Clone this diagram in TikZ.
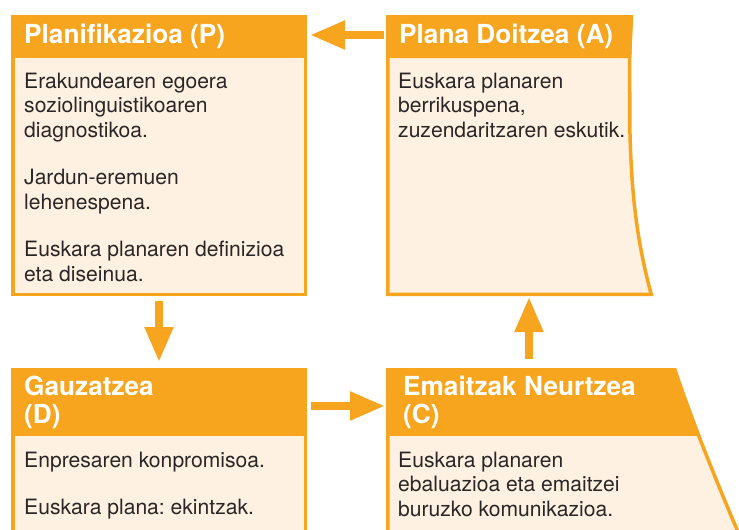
\documentclass[tikz,border=0pt]{standalone}
\usepackage{fontspec}
\setmainfont{TeX Gyre Heros}
\usetikzlibrary{arrows.meta}
\definecolor{pdcaorange}{HTML}{F7A51F}
\definecolor{pdcacream}{HTML}{FEF1E1}
\definecolor{pdcatext}{HTML}{2A2627}
\newcommand{\pdcabody}[1]{\parbox[t]{320pt}{\raggedright\frenchspacing\fontsize{21.1}{24.5}\selectfont #1}}
\newcommand{\pdcahead}[1]{\parbox[t]{320pt}{\raggedright\frenchspacing\fontsize{26.2}{28}\selectfont\bfseries #1}}
\tikzset{
  boxline/.style={draw=pdcaorange, line width=3.5pt, fill=pdcacream},
  headfill/.style={fill=pdcaorange},
  headtext/.style={anchor=base west, inner sep=0pt, text=white},
  bodytext/.style={anchor=base west, inner sep=0pt, text=pdcatext},
  flow/.style={draw=pdcaorange, line width=8pt, -{Triangle[length=35pt,width=27pt]}},
}
\begin{document}
\begin{tikzpicture}[x=1pt,y=-1pt]
\useasboundingbox (0,0) rectangle (739,530);
\clip (0,0) rectangle (739,530);
\fill[white] (0,0) rectangle (739,530);

% Box P
\path[boxline] (12.75,16.75) rectangle (305.25,294.25);
\fill[headfill] (11,15) rectangle (307,58);
\node[headtext] (Phead) at (24,43) {\pdcahead{Planifikazioa (P)}};
\node[bodytext] (Pbody) at (24,88) {\pdcabody{Erakundearen egoera\\ soziolinguistikoaren\\ diagnostikoa.\\[23pt] Jardun-eremuen\\ lehenespena.\\[23pt] Euskara planaren definizioa\\ eta diseinua.}};

% Box A
\path[boxline] (387.75,16.75) -- (631.3,16.75) -- (629.6,58) -- (629.9,130) .. controls (631.5,200) and (638,245) .. (651.2,294.25) -- (387.75,294.25) -- cycle;
\fill[headfill] (386,15) -- (633,15) -- (631.3,58) -- (386,58) -- cycle;
\node[headtext] (Ahead) at (399,43) {\pdcahead{Plana Doitzea (A)}};
\node[bodytext] (Abody) at (398,88) {\pdcabody{Euskara planaren\\ berrikuspena,\\ zuzendaritzaren eskutik.}};

% Box D
\path[boxline] (12.75,369.75) rectangle (305.25,545);
\fill[headfill] (11,368) rectangle (307,436);
\node[headtext] (Dhead) at (24,395) {\pdcahead{Gauzatzea\\ (D)}};
\node[bodytext] (Dbody) at (24,467) {\pdcabody{Enpresaren konpromisoa.\\[23pt] Euskara plana: ekintzak.}};

% Box C
\path[boxline] (387.75,369.75) -- (674.8,369.75) .. controls (690.8,418) and (717.8,485) .. (739.3,535) -- (739.3,545) -- (387.75,545) -- cycle;
\begin{scope}
  \clip (386,368) -- (676,368) .. controls (692.5,418) and (719.5,485) .. (741,535) -- (386,535) -- cycle;
  \fill[headfill] (380,360) rectangle (750,436);
\end{scope}
\node[headtext] (Chead) at (403,395) {\pdcahead{Emaitzak Neurtzea\\ (C)}};
\node[bodytext] (Cbody) at (398,467) {\pdcabody{Euskara planaren\\ ebaluazioa eta emaitzei\\ buruzko komunikazioa.}};

% Arrows
\coordinate (AtoPs) at (384,35);
\coordinate (AtoPe) at (310,35);
\coordinate (PtoDs) at (159,301);
\coordinate (PtoDe) at (159,362);
\coordinate (DtoCs) at (311,406);
\coordinate (DtoCe) at (385,406);
\coordinate (CtoAs) at (529,359);
\coordinate (CtoAe) at (529,297);
\draw[flow] (AtoPs) -- (AtoPe);
\draw[flow] (PtoDs) -- (PtoDe);
\draw[flow] (DtoCs) -- (DtoCe);
\draw[flow] (CtoAs) -- (CtoAe);
\end{tikzpicture}
\end{document}
